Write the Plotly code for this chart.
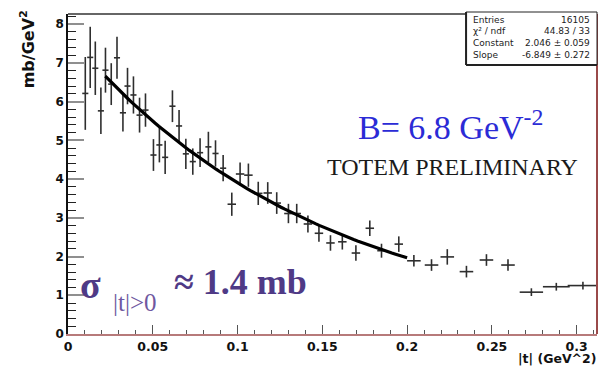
import numpy as np
import plotly.graph_objects as go

# ---- data ----
t_vals = [0.0102, 0.0131, 0.0161, 0.0194, 0.0221, 0.0255, 0.0289, 0.0324, 0.0351, 0.0386,
          0.0422, 0.0457, 0.0504, 0.0539, 0.0573, 0.0616, 0.0655, 0.0695, 0.0736, 0.0779,
          0.0828, 0.0870, 0.0915, 0.0966, 0.1015, 0.1064, 0.1122, 0.1178, 0.1231, 0.1300,
          0.1349, 0.1415, 0.1480, 0.1548, 0.1618, 0.1698, 0.1780, 0.1849, 0.1951, 0.2040,
          0.2144, 0.2237, 0.2350, 0.2468, 0.2595, 0.2733, 0.2880, 0.3037]
dsig = [6.21, 7.14, 6.86, 5.76, 6.81, 6.45, 7.13, 5.71, 6.40, 6.17,
        5.65, 5.78, 4.62, 4.88, 4.56, 5.88, 5.37, 4.65, 4.45, 4.68,
        4.83, 4.66, 4.28, 3.35, 4.13, 4.10, 3.63, 3.64, 3.38, 3.11,
        3.11, 2.84, 2.60, 2.35, 2.38, 2.09, 2.73, 2.15, 2.32, 1.89,
        1.78, 1.99, 1.61, 1.91, 1.78, 1.08, 1.22, 1.25]
dsig_err = [0.94, 0.79, 0.69, 0.60, 0.58, 0.54, 0.54, 0.48, 0.47, 0.48,
            0.45, 0.43, 0.41, 0.45, 0.43, 0.41, 0.41, 0.39, 0.34, 0.37,
            0.39, 0.34, 0.34, 0.30, 0.30, 0.30, 0.30, 0.28, 0.28, 0.25,
            0.25, 0.22, 0.22, 0.20, 0.20, 0.20, 0.20, 0.18, 0.20, 0.15,
            0.15, 0.20, 0.15, 0.15, 0.15, 0.10, 0.10, 0.10]
t_halfbin = [0.0018] * 23 + [0.0025] * 16 + [0.0040] * 6 + [0.0069, 0.0079, 0.0090]

# fit parameters shown in the stats box
fit_constant = 2.046
fit_slope = -6.849
fit_tmin, fit_tmax = 0.022, 0.2

stats_labels = ["Entries", "\u03c7\u00b2 / ndf", "Constant", "Slope"]
stats_values = ["16105", "44.83 / 33", "2.046 \u00b1 0.059", "-6.849 \u00b1 0.272"]

x_ticks = [0, 0.05, 0.1, 0.15, 0.2, 0.25, 0.3]
x_ticklabels = ["0", "0.05", "0.1", "0.15", "0.2", "0.25", "0.3"]
y_ticks = [0, 1, 2, 3, 4, 5, 6, 7, 8]

# ---- geometry ----
W, H = 601, 366
L, R, T, B = 67.7, 597.0, 14.0, 334.0
pw, ph = R - L, B - T


def px(x):
    return (x - L) / pw


def py(y):
    return (B - y) / ph


fig = go.Figure()

fig.add_trace(go.Scatter(
    x=t_vals, y=dsig, mode="markers",
    marker=dict(size=1, color="rgba(0,0,0,0)"),
    error_y=dict(type="data", array=dsig_err, width=0, thickness=1.6, color="#2e2e2e"),
    error_x=dict(type="data", array=t_halfbin, width=0, thickness=1.6, color="#2e2e2e"),
    showlegend=False, hoverinfo="skip"))

tf = np.linspace(fit_tmin, fit_tmax, 80)
fig.add_trace(go.Scatter(
    x=tf, y=np.exp(fit_constant + fit_slope * tf), mode="lines",
    line=dict(color="black", width=3.2), showlegend=False, hoverinfo="skip"))

sans = "DejaVu Sans"
fig.update_layout(
    width=W, height=H,
    margin=dict(l=L, r=W - R, t=T, b=H - B),
    paper_bgcolor="white", plot_bgcolor="white",
    xaxis=dict(range=[0, 0.312], tickvals=x_ticks, ticktext=x_ticklabels,
               ticks="inside", ticklen=9, tickwidth=1.3, tickcolor="#555",
               minor=dict(dtick=0.01, ticks="inside", ticklen=4, tickcolor="#555", tickwidth=1.2),
               showline=True, linecolor="#b77a7a", linewidth=1.5, mirror=False,
               showgrid=False, zeroline=False,
               tickfont=dict(family=sans, size=12.5, color="#111", weight="bold")),
    yaxis=dict(range=[0, 8.26], tickvals=y_ticks,
               ticks="inside", ticklen=16, tickwidth=1.5, tickcolor="#8f8f8f",
               minor=dict(dtick=0.2, ticks="inside", ticklen=8, tickcolor="#222", tickwidth=1.2),
               showline=True, linecolor="#111", linewidth=1.5,
               showgrid=False, zeroline=False,
               tickfont=dict(family=sans, size=12, color="#111", weight="bold")),
)

shapes = [
    dict(type="line", xref="paper", yref="paper", x0=0, x1=1, y0=1, y1=1,
         line=dict(color="#333", width=1.5)),
    dict(type="line", xref="paper", yref="paper", x0=1, x1=1, y0=0, y1=1,
         line=dict(color="#9a4a4a", width=2)),
    dict(type="rect", xref="paper", yref="paper", x0=px(466), x1=px(597), y0=py(65), y1=py(12),
         line=dict(color="#222", width=1), fillcolor="white"),
    dict(type="line", xref="paper", yref="paper", x0=px(466), x1=px(466), y0=py(65), y1=py(12),
         line=dict(color="#222", width=2)),
    dict(type="line", xref="paper", yref="paper", x0=px(466), x1=px(597), y0=py(65), y1=py(65),
         line=dict(color="#222", width=1.8)),
]
fig.update_layout(shapes=shapes)

ann = []
row_y = [19.5, 31, 43.5, 55.5]
for lab, val, yy in zip(stats_labels, stats_values, row_y):
    ann.append(dict(x=px(471), y=py(yy), xref="paper", yref="paper", text=lab, showarrow=False,
                    xanchor="left", yanchor="middle",
                    font=dict(family=sans, size=9, color="#222")))
    ann.append(dict(x=px(592), y=py(yy), xref="paper", yref="paper", text=val, showarrow=False,
                    xanchor="right", yanchor="middle",
                    font=dict(family=sans, size=9, color="#222")))

serif = "Liberation Serif"
ann += [
    dict(x=px(450), y=py(125), xref="paper", yref="paper",
         text="B= 6.8 GeV<sup>-2</sup>", showarrow=False, xanchor="center", yanchor="middle",
         font=dict(family=serif, size=34, color="#2b2bd6")),
    dict(x=px(452), y=py(167), xref="paper", yref="paper",
         text="TOTEM PRELIMINARY", showarrow=False, xanchor="center", yanchor="middle",
         font=dict(family=serif, size=24, color="#1a1a1a")),
    dict(x=px(90), y=py(285), xref="paper", yref="paper",
         text="<b>\u03c3</b>", showarrow=False, xanchor="center", yanchor="middle",
         font=dict(family=serif, size=38, color="#4f3a86")),
    dict(x=px(135), y=py(302), xref="paper", yref="paper",
         text="|t|&gt;0", showarrow=False, xanchor="center", yanchor="middle",
         font=dict(family=serif, size=25, color="#6f58a0")),
    dict(x=px(172), y=py(282), xref="paper", yref="paper",
         text="<b>\u2248 1.4 mb</b>", showarrow=False, xanchor="left", yanchor="middle",
         font=dict(family=serif, size=36, color="#4f3a86")),
    dict(x=px(27), y=py(49), xref="paper", yref="paper", textangle=-90,
         text="<b>mb/GeV<sup>2</sup></b>", showarrow=False, xanchor="center", yanchor="middle",
         font=dict(family=sans, size=16, color="#111")),
    dict(x=px(598), y=py(358), xref="paper", yref="paper",
         text="<b>|t| (GeV^2)</b>", showarrow=False, xanchor="right", yanchor="middle",
         font=dict(family=sans, size=12.5, color="#111")),
]
fig.update_layout(annotations=ann)

fig.write_html("out.html")
